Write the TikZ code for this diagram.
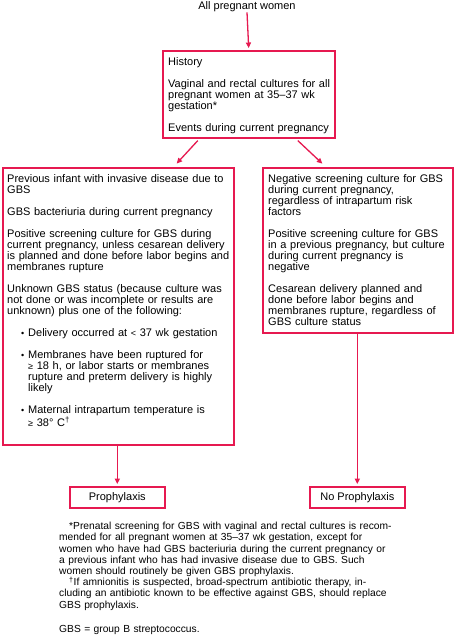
\documentclass[tikz,border=0pt]{standalone}
\usepackage{fontspec}
\setmainfont{Liberation Sans}
\usetikzlibrary{arrows.meta}
\definecolor{gbsred}{RGB}{230,25,80}
\begin{document}
\begin{tikzpicture}[x=1pt,y=-1pt,
  box/.style={draw=gbsred,line width=1.6pt,inner sep=0pt,anchor=north west},
  txt/.style={inner sep=0pt,anchor=north west,align=left,text width=#1,font=\fontsize{11}{11}\selectfont},
  lbl/.style={inner sep=0pt,font=\fontsize{11}{11}\selectfont},
  arr/.style={draw=gbsred,line width=1.3pt,-{Triangle[length=5.5pt,width=5pt]},shorten >=2pt},
]
\useasboundingbox (0,0) rectangle (453,635);
\fill[white] (0,0) rectangle (453,635);

\node[lbl] (A) at (247,7) {All pregnant women};

\node[box,minimum width=172pt,minimum height=87pt] (T) at (162,50) {};
\node[txt=170pt] (Tt) at ([xshift=6pt,yshift=-7pt]T.north west) {History\\[11pt]
Vaginal and rectal cultures for all\\
pregnant women at 35–37 wk\\
gestation*\\[11pt]
Events during current pregnancy};

\node[box,minimum width=231pt,minimum height=277pt] (L) at (2,167) {};
\node[txt=228pt] (Lt) at ([xshift=5pt,yshift=-7pt]L.north west) {Previous infant with invasive disease due to\\
GBS\\[11pt]
GBS bacteriuria during current pregnancy\\[11pt]
Positive screening culture for GBS during\\
current pregnancy, unless cesarean delivery\\
is planned and done before labor begins and\\
membranes rupture\\[11pt]
Unknown GBS status (because culture was\\
not done or was incomplete or results are\\
unknown) plus one of the following:\\[11pt]
\hspace*{14pt}\makebox[7pt][l]{\small•}Delivery occurred at {\small<} 37 wk gestation\\[11pt]
\hspace*{14pt}\makebox[7pt][l]{\small•}Membranes have been ruptured for\\
\hspace*{21pt}{\small≥} 18 h, or labor starts or membranes\\
\hspace*{21pt}rupture and preterm delivery is highly\\
\hspace*{21pt}likely\\[11pt]
\hspace*{14pt}\makebox[7pt][l]{\small•}Maternal intrapartum temperature is\\
\hspace*{21pt}{\small≥} 38° C\textsuperscript{†}};

\node[box,minimum width=190pt,minimum height=165pt] (R) at (262,167) {};
\node[txt=188pt] (Rt) at ([xshift=6pt,yshift=-7pt]R.north west) {Negative screening culture for GBS\\
during current pregnancy,\\
regardless of intrapartum risk\\
factors\\[11pt]
Positive screening culture for GBS\\
in a previous pregnancy, but culture\\
during current pregnancy is\\
negative\\[11pt]
Cesarean delivery planned and\\
done before labor begins and\\
membranes rupture, regardless of\\
GBS culture status};

\node[box,minimum width=95pt,minimum height=21pt,font=\fontsize{11}{11}\selectfont] (P) at (69,486) {Prophylaxis};
\node[box,minimum width=95pt,minimum height=21pt,font=\fontsize{11}{11}\selectfont] (N) at (309,486) {No Prophylaxis};

\draw[arr] (A.south) -- (T.north);
\draw[arr] ([xshift=-51pt,yshift=-2pt]T.south) -- ([xshift=57pt,yshift=2pt]L.north);
\draw[arr] ([xshift=49pt,yshift=-2pt]T.south) -- ([xshift=-34pt,yshift=2pt]R.north);
\draw[arr] (P.north |- L.south) -- (P.north);
\draw[arr] (N.north |- R.south) -- (N.north);

\node[inner sep=0pt,anchor=north west,align=left,text width=390pt,font=\fontsize{10.25}{11.2}\selectfont] (F) at (59,522) {\hspace*{10pt}*Prenatal screening for GBS with vaginal and rectal cultures is recom-\\
mended for all pregnant women at 35–37 wk gestation, except for\\
women who have had GBS bacteriuria during the current pregnancy or\\
a previous infant who has had invasive disease due to GBS. Such\\
women should routinely be given GBS prophylaxis.\\
\hspace*{10pt}\textsuperscript{†}If amnionitis is suspected, broad-spectrum antibiotic therapy, in-\\
cluding an antibiotic known to be effective against GBS, should replace\\
GBS prophylaxis.\\[13pt]
GBS = group B streptococcus.};
\end{tikzpicture}
\end{document}
